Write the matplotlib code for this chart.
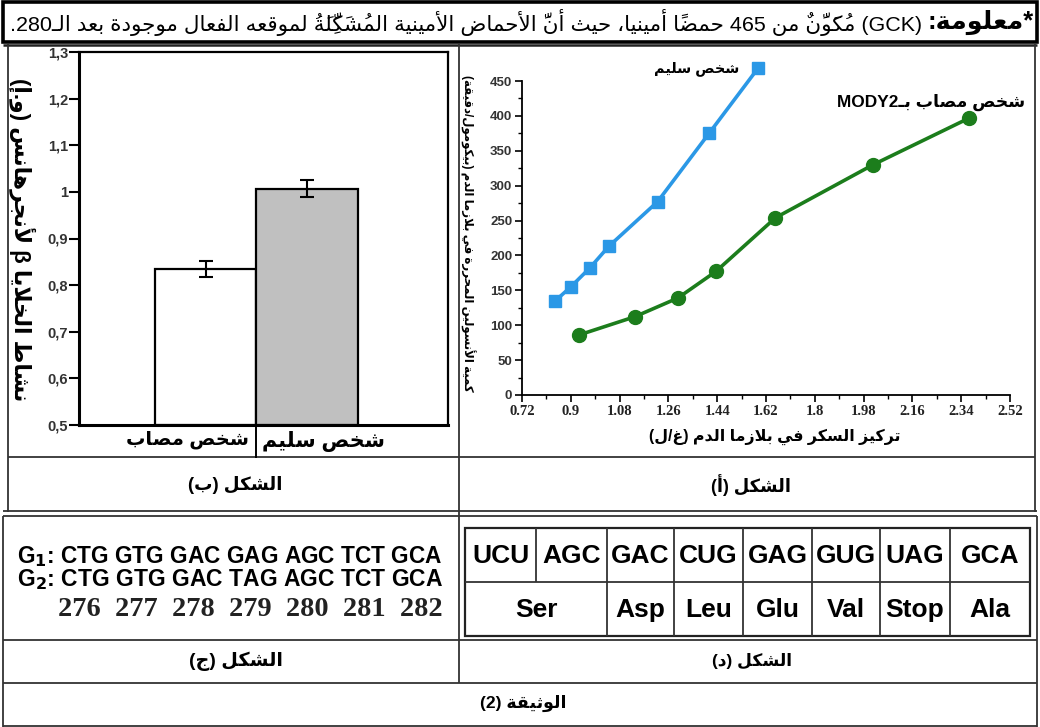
import matplotlib
matplotlib.use('Agg')
import matplotlib.pyplot as plt
from matplotlib.ticker import AutoMinorLocator

# ---------------- data ----------------
banner_title = '*معلومة:'
banner_text = '(GCK) مُكَوَّنٌ من 465 حمضًا أمينيا، حيث أنَّ الأحماض الأمينية المُشَكِّلَةُ لموقعه الفعال موجودة بعد الـ280.'

bar_groups = ['شخص مصاب', 'شخص سليم']
bar_values = [0.835, 1.007]
bar_errors = [0.017, 0.018]
bar_colors = ['white', '#c0c0c0']
bar_ylabel = 'نشاط الخلايا β لأنجرهانس (و.إ)'
bar_yticks = [0.5, 0.6, 0.7, 0.8, 0.9, 1.0, 1.1, 1.2, 1.3]
bar_yticklabels = ['0,5', '0,6', '0,7', '0,8', '0,9', '1', '1,1', '1,2', '1,3']

glucose_healthy = [0.84, 0.90, 0.97, 1.04, 1.22, 1.41, 1.59]
insulin_healthy = [134, 155, 182, 213, 277, 375, 468]
glucose_mody = [0.93, 1.135, 1.295, 1.435, 1.655, 2.015, 2.37]
insulin_mody = [86, 112, 139, 177, 254, 330, 397]
line_names = ['شخص سليم', 'شخص مصاب بـMODY2']
line_xticks = [0.72, 0.9, 1.08, 1.26, 1.44, 1.62, 1.8, 1.98, 2.16, 2.34, 2.52]
line_xticklabels = ['0.72', '0.9', '1.08', '1.26', '1.44', '1.62', '1.8', '1.98', '2.16', '2.34', '2.52']
line_yticks = [0, 50, 100, 150, 200, 250, 300, 350, 400, 450]
line_xlabel = 'تركيز السكر في بلازما الدم (غ/ل)'
line_ylabel = 'كمية الأنسولين المحررة في بلازما الدم (بيكومول/دقيقة)'

codons = ['UCU', 'AGC', 'GAC', 'CUG', 'GAG', 'GUG', 'UAG', 'GCA']
amino_acids = ['Ser', 'Asp', 'Leu', 'Glu', 'Val', 'Stop', 'Ala']
amino_span = [2, 1, 1, 1, 1, 1, 1]

gene_g1 = ['CTG', 'GTG', 'GAC', 'GAG', 'AGC', 'TCT', 'GCA']
gene_g2 = ['CTG', 'GTG', 'GAC', 'TAG', 'AGC', 'TCT', 'GCA']
codon_numbers = [276, 277, 278, 279, 280, 281, 282]

cap_a = 'الشكل (أ)'
cap_b = 'الشكل (ب)'
cap_c = 'الشكل (ج)'
cap_d = 'الشكل (د)'
doc_title = 'الوثيقة (2)'

# ---------------- arabic shaping (no raqm in matplotlib) ----------------
HARAKAT = set(chr(c) for c in range(0x064B, 0x0653)) | {'\u0670'}
TATWEEL = '\u0640'
DUAL = {'ئ': 0xFE89, 'ب': 0xFE8F, 'ت': 0xFE95, 'ث': 0xFE99, 'ج': 0xFE9D, 'ح': 0xFEA1,
        'خ': 0xFEA5, 'س': 0xFEB1, 'ش': 0xFEB5, 'ص': 0xFEB9, 'ض': 0xFEBD, 'ط': 0xFEC1,
        'ظ': 0xFEC5, 'ع': 0xFEC9, 'غ': 0xFECD, 'ف': 0xFED1, 'ق': 0xFED5, 'ك': 0xFED9,
        'ل': 0xFEDD, 'م': 0xFEE1, 'ن': 0xFEE5, 'ه': 0xFEE9, 'ي': 0xFEF1}
RIGHT = {'آ': 0xFE81, 'أ': 0xFE83, 'ؤ': 0xFE85, 'إ': 0xFE87, 'ا': 0xFE8D, 'ة': 0xFE93,
         'د': 0xFEA9, 'ذ': 0xFEAB, 'ر': 0xFEAD, 'ز': 0xFEAF, 'و': 0xFEED, 'ى': 0xFEEF}
LAM_ALEF = {'آ': 0xFEF5, 'أ': 0xFEF7, 'إ': 0xFEF9, 'ا': 0xFEFB}
MIRROR = {'(': ')', ')': '('}


def joins_next(ch):
    return ch in DUAL or ch == TATWEEL


def joins_prev(ch):
    return ch in DUAL or ch in RIGHT or ch == TATWEEL


def shape(s):
    chars = list(s)
    n = len(chars)
    out = []
    skip = set()
    for i, ch in enumerate(chars):
        if i in skip:
            continue
        if ch in HARAKAT:
            if out:
                out[-1] += ch
            else:
                out.append(ch)
            continue
        k = i - 1
        while k >= 0 and chars[k] in HARAKAT:
            k -= 1
        p = chars[k] if k >= 0 else None
        j = i + 1
        while j < n and chars[j] in HARAKAT:
            j += 1
        nx = chars[j] if j < n else None
        jp = p is not None and joins_next(p) and joins_prev(ch)
        if ch == 'ل' and nx in LAM_ALEF:
            out.append(chr(LAM_ALEF[nx] + (1 if jp else 0)))
            skip.add(j)
            continue
        jn = nx is not None and joins_next(ch) and joins_prev(nx)
        if ch in DUAL:
            out.append(chr(DUAL[ch] + [0, 2, 1, 3][jp * 2 + jn]))
        elif ch in RIGHT:
            out.append(chr(RIGHT[ch] + (1 if jp else 0)))
        elif ch == 'ء':
            out.append('\uFE80')
        else:
            out.append(ch)
    return out


def is_ltr(c):
    ch = c[0]
    return ch.isalnum() and not ('\u0600' <= ch <= '\u06FF' or '\uFB50' <= ch <= '\uFEFF')


def vis(c):
    # marks have no positioning here, so draw them before their base glyph
    c = MIRROR.get(c, c)
    return c[1:] + c[0] if len(c) > 1 else c


def ar(s):
    runs = []
    for c in shape(s):
        l = is_ltr(c)
        if runs and runs[-1][0] == l:
            runs[-1][1].append(c)
        else:
            runs.append((l, [c]))
    res = []
    for l, items in reversed(runs):
        if l:
            res.append(''.join(items))
        else:
            res.append(''.join(vis(c) for c in reversed(items)))
    return ''.join(res)


# ---------------- figure ----------------
plt.rcParams['font.family'] = ['Liberation Sans', 'DejaVu Sans']
W, H = 1040, 727
fig = plt.figure(figsize=(W / 100, H / 100), dpi=100)
fig.patch.set_facecolor('white')
renderer = fig.canvas.get_renderer()

bg = fig.add_axes([0, 0, 1, 1])
bg.set_xlim(0, W)
bg.set_ylim(H, 0)
bg.axis('off')


def px_rect(l, t, r, b):
    return [l / W, 1 - b / H, (r - l) / W, (b - t) / H]


def fit(t, width, rot=None):
    bb = t.get_window_extent(renderer)
    t.set_fontsize(t.get_fontsize() * width / bb.width)
    if rot is not None:
        t.set_rotation(rot)
    return t


def hline(y, x0, x1, lw=1.3, c='#333333'):
    bg.plot([x0, x1], [y, y], color=c, lw=lw, solid_capstyle='butt')


def vline(x, y0, y1, lw=1.3, c='#333333'):
    bg.plot([x, x], [y0, y1], color=c, lw=lw, solid_capstyle='butt')


# banner
bg.add_patch(plt.Rectangle((3, 2), 1034, 40, fill=False, lw=2.6, ec='black'))
t1 = bg.text(1034, 22, ar(banner_title), ha='right', va='center', fontsize=15,
             fontweight='bold')
fit(t1, 106)
t2 = bg.text(922, 22, ar(banner_text), ha='right', va='center', fontsize=15)
fit(t2, 915)

# table lines
hline(44.5, 3, 1037, lw=1.8, c='#222222')
vline(8, 44, 512)
vline(1035, 44, 512)
vline(459, 44, 683)
hline(457, 8, 1035)
hline(511, 3, 1037)
hline(516, 3, 1037)
vline(3, 516, 727)
vline(1037, 516, 727)
hline(640, 3, 1037)
hline(683, 3, 1037)
hline(726, 3, 1037)

# captions
for txt, x, y, w in [(cap_b, 235, 485, 94), (cap_a, 751, 485, 80),
                     (cap_c, 236, 661, 93), (cap_d, 752, 661, 80),
                     (doc_title, 523, 703, 86)]:
    t = bg.text(x, y, ar(txt), ha='center', va='center', fontsize=11, fontweight='bold')
    fit(t, w)

# ---------------- figure (b): bar chart ----------------
axb = fig.add_axes(px_rect(79, 52, 448, 425))
axb.set_facecolor('none')
xpos = [0, 1]
axb.bar(xpos, [v - 0.5 for v in bar_values], bottom=0.5, width=1.0, color=bar_colors,
        edgecolor='black', linewidth=1.6, zorder=2)
axb.errorbar(xpos, bar_values, yerr=bar_errors, fmt='none', ecolor='black',
             elinewidth=1.5, capsize=5, capthick=1.5, zorder=3)
axb.set_xlim(-1.249, 2.387)
axb.set_ylim(0.5, 1.3)
axb.set_yticks(bar_yticks)
axb.set_yticklabels(bar_yticklabels, fontsize=10.5, fontweight='bold', color='#333333')
axb.tick_params(axis='y', direction='out', length=7, width=1.5, pad=1)
axb.set_xticks([-0.18, 1.16])
axb.set_xticklabels([ar(g) for g in bar_groups], fontweight='bold', fontsize=14)
axb.tick_params(axis='x', length=0, pad=4)
for s in ['left', 'bottom']:
    axb.spines[s].set_linewidth(2.2)
for s in ['top', 'right']:
    axb.spines[s].set_linewidth(1.6)
for lab in axb.get_xticklabels():
    fit(lab, 123)
vline(256, 425, 458, lw=1.4, c='black')
yl = bg.text(22, 240, ar(bar_ylabel), ha='center', va='center', fontsize=15,
             fontweight='bold')
fit(yl, 324, rot=-90)

# ---------------- figure (a): line chart ----------------
axa = fig.add_axes(px_rect(522, 81, 1010, 395))
axa.set_facecolor('none')
axa.plot(glucose_healthy, insulin_healthy, color='#2b98e6', lw=2.6, marker='s',
         markersize=9, clip_on=False, zorder=3)
axa.plot(glucose_mody, insulin_mody, color='#1c7d1c', lw=2.6, marker='o',
         markersize=10, clip_on=False, zorder=3)
axa.set_xlim(0.72, 2.52)
axa.set_ylim(0, 450)
axa.set_xticks(line_xticks)
axa.set_xticklabels(line_xticklabels, family=['Liberation Serif', 'DejaVu Serif'],
                    fontweight='bold', fontsize=10.5, color='#222222')
axa.set_yticks(line_yticks)
axa.set_yticklabels([str(v) for v in line_yticks], fontweight='bold', fontsize=9.5,
                    color='#333333')
axa.xaxis.set_minor_locator(AutoMinorLocator(2))
axa.yaxis.set_minor_locator(AutoMinorLocator(2))
axa.tick_params(which='major', direction='out', length=5, width=1.2, pad=2)
axa.tick_params(which='minor', direction='out', length=3, width=1.0)
axa.spines['top'].set_visible(False)
axa.spines['right'].set_visible(False)
for s in ['left', 'bottom']:
    axa.spines[s].set_linewidth(1.3)

n1 = axa.text(glucose_healthy[-1] - 0.07, insulin_healthy[-1], ar(line_names[0]),
              ha='right', va='center', fontweight='bold', fontsize=11)
fit(n1, 85)
n2 = bg.text(931, 102, ar(line_names[1]), ha='center', va='center',
             fontweight='bold', fontsize=11)
fit(n2, 188)
xl = bg.text(775, 437, ar(line_xlabel), ha='center', va='center', fontweight='bold',
             fontsize=12)
fit(xl, 252)
yl2 = bg.text(468, 233, ar(line_ylabel), ha='center', va='center', fontweight='bold',
              fontsize=8)
fit(yl2, 318, rot=-90)

# ---------------- figure (d): codon table ----------------
cols = [465, 536, 607, 674, 743, 812, 880, 950, 1030]
top, mid, bot = 528, 582, 636
bg.add_patch(plt.Rectangle((465, top), 1030 - 465, bot - top, fill=False, lw=1.6,
                           ec='#222222'))
hline(mid, 465, 1030, lw=1.3)
for i, c in enumerate(codons):
    if i > 0:
        vline(cols[i], top, mid, lw=1.3)
    bg.text((cols[i] + cols[i + 1]) / 2, (top + mid) / 2 + 1, c, ha='center',
            va='center', fontsize=19, fontweight='bold')
k = 0
for aa, span in zip(amino_acids, amino_span):
    x0, x1 = cols[k], cols[k + span]
    if k > 0:
        vline(x0, mid, bot, lw=1.3)
    bg.text((x0 + x1) / 2, (mid + bot) / 2 + 1, aa, ha='center', va='center',
            fontsize=19, fontweight='bold')
    k += span

# ---------------- figure (c): gene sequences ----------------
g1 = bg.text(443, 557, r'G$_\mathbf{1}$: ' + ' '.join(gene_g1), ha='right', va='center',
             fontsize=13, fontweight='bold')
fit(g1, 426)
g2 = bg.text(443, 580, r'G$_\mathbf{2}$: ' + ' '.join(gene_g2), ha='right', va='center',
             fontsize=13, fontweight='bold')
fit(g2, 426)
nums = bg.text(443, 610, '  '.join(str(n) for n in codon_numbers), ha='right',
               va='center', fontsize=14, fontweight='bold',
               family=['Liberation Serif', 'DejaVu Serif'], color='#222222')
fit(nums, 385)

fig.savefig('out.png', dpi=100)
